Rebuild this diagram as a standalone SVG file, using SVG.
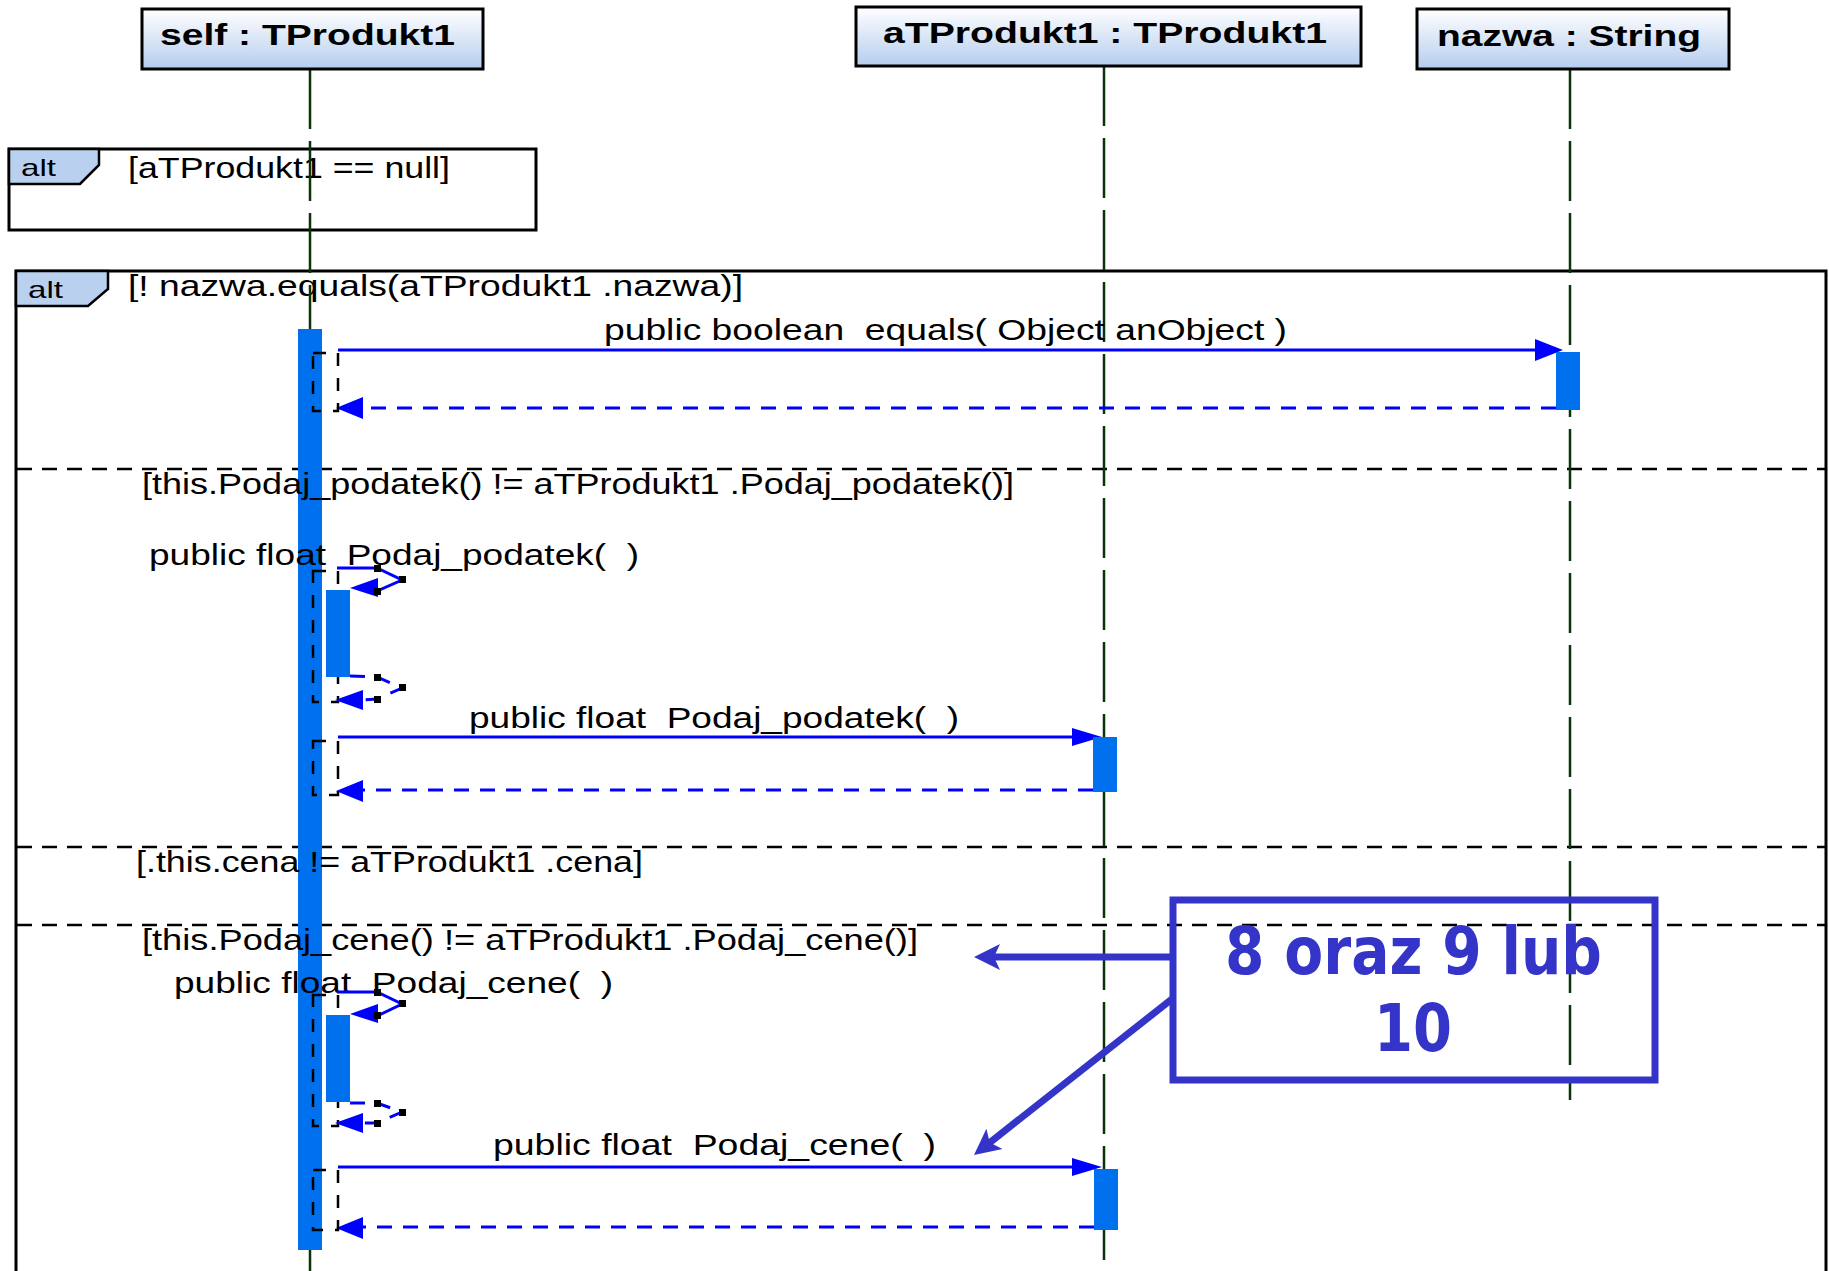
<svg xmlns="http://www.w3.org/2000/svg" width="1829" height="1271" viewBox="0 0 1829 1271">
<defs>
<linearGradient id="hg" x1="0" y1="0" x2="0" y2="1">
<stop offset="0" stop-color="#ffffff"/>
<stop offset="1" stop-color="#b5cdee"/>
</linearGradient>
<marker id="na" markerUnits="userSpaceOnUse" markerWidth="30" markerHeight="30" viewBox="0 0 30 30" refX="13" refY="15" orient="auto">
<path d="M2,2 L28,15 L2,28 L8,15 z" fill="#3434c8"/>
</marker>
<style>
.hdr{fill:url(#hg);stroke:#000;stroke-width:3}
.ht{font-family:"Liberation Sans",Arial,sans-serif;font-weight:bold;font-size:30px;fill:#000}
.t{font-family:"Liberation Sans",Arial,sans-serif;font-size:29px;fill:#000;white-space:pre}
.alt{font-family:"Liberation Sans",Arial,sans-serif;font-size:24px;fill:#000}
.frame{fill:none;stroke:#000;stroke-width:3}
.tab{fill:#b9d1ee;stroke:#000;stroke-width:2.5}
.div{stroke:#000;stroke-width:2.5;stroke-dasharray:15 10;fill:none}
.life{stroke:#0a330a;stroke-width:2.5;stroke-dasharray:60 12;fill:none}
.act{fill:#0070ee}
.msg{stroke:#0000ff;stroke-width:3;fill:none}
.ret{stroke:#0000ff;stroke-width:3;fill:none;stroke-dasharray:15 11}
.ah{fill:#0000ff}
.br{stroke:#000;stroke-width:2.5;fill:none;stroke-dasharray:13 12}
.dot{fill:#000}
.note{fill:none;stroke:#3434c8;stroke-width:7}
.nt{font-family:"DejaVu Sans",Verdana,sans-serif;font-weight:bold;font-size:66px;fill:#3434c8}
.na{stroke:#3434c8;stroke-width:7;fill:none}
</style>
</defs>
<rect width="1829" height="1271" fill="#ffffff"/>

<g id="frame-alt1">
<rect class="frame" x="9" y="149" width="527" height="81"/>
<polygon class="tab" points="9,149 99,149 99,165 80,184 9,184"/>
<text class="alt" x="21" y="176" textLength="35" lengthAdjust="spacingAndGlyphs">alt</text>
<text class="t" x="128" y="178" textLength="322" lengthAdjust="spacingAndGlyphs">[aTProdukt1 == null]</text>
</g>

<g id="frame-alt2">
<rect class="frame" x="16" y="271" width="1810" height="1100"/>
<polygon class="tab" points="16,271 108,271 108,289 88,306 16,306"/>
<text class="alt" x="28" y="298" textLength="35" lengthAdjust="spacingAndGlyphs">alt</text>
<text class="t" x="128" y="296" textLength="615" lengthAdjust="spacingAndGlyphs">[! nazwa.equals(aTProdukt1 .nazwa)]</text>
<line class="div" x1="17" y1="469" x2="1825" y2="469"/>
<line class="div" x1="17" y1="847" x2="1825" y2="847"/>
<line class="div" x1="17" y1="925" x2="1825" y2="925"/>
</g>

<g id="lifelines">
<line class="life" x1="310" y1="69" x2="310" y2="1271"/>
<line class="life" x1="1104" y1="66" x2="1104" y2="1260"/>
<line class="life" x1="1570" y1="69" x2="1570" y2="1100"/>
</g>

<g id="self">
<rect class="hdr" x="142" y="9" width="341" height="60"/>
<text class="ht" x="160" y="45" textLength="295" lengthAdjust="spacingAndGlyphs">self : TProdukt1</text>
<rect class="act" x="298" y="329" width="24" height="921"/>
</g>

<g id="aTProdukt1">
<rect class="hdr" x="856" y="7" width="505" height="59"/>
<text class="ht" x="883" y="43" textLength="444" lengthAdjust="spacingAndGlyphs">aTProdukt1 : TProdukt1</text>
</g>

<g id="nazwa">
<rect class="hdr" x="1417" y="9" width="312" height="60"/>
<text class="ht" x="1437" y="46" textLength="264" lengthAdjust="spacingAndGlyphs">nazwa : String</text>
</g>

<g id="guards">
<text class="t" x="142" y="494" textLength="872" lengthAdjust="spacingAndGlyphs">[this.Podaj_podatek() != aTProdukt1 .Podaj_podatek()]</text>
<text class="t" x="136" y="872" textLength="507" lengthAdjust="spacingAndGlyphs">[.this.cena != aTProdukt1 .cena]</text>
<text class="t" x="142" y="950" textLength="776" lengthAdjust="spacingAndGlyphs">[this.Podaj_cene() != aTProdukt1 .Podaj_cene()]</text>
</g>

<g id="connectors">
<!-- equals -->
<line class="msg" x1="338" y1="350" x2="1538" y2="350"/>
<polygon class="ah" points="1563,350 1535,339 1535,361"/>
<rect class="act" x="1556" y="352" width="24" height="58"/>
<line class="ret" x1="1556" y1="408" x2="360" y2="408"/>
<polygon class="ah" points="336,408 363,397 363,419"/>
<path class="br" d="M313,353 H338 V411 H313 Z"/>
<text class="t" x="604" y="340" textLength="683" lengthAdjust="spacingAndGlyphs">public boolean  equals( Object anObject )</text>

<!-- self call Podaj_podatek -->
<text class="t" x="149" y="565" textLength="490" lengthAdjust="spacingAndGlyphs">public float  Podaj_podatek(  )</text>
<path class="br" d="M313,571 H338 V702 H313 Z"/>
<rect class="act" x="326" y="590" width="24" height="87"/>
<polyline class="msg" points="337,568 377,568 402,580 377,591 375,591"/>
<polygon class="ah" points="350,588 378,578 378,597"/>
<polyline class="ret" stroke-dasharray="10 6" points="350,676 377,677 402,688 377,699 362,700"/>
<polygon class="ah" points="335,700 363,690 363,710"/>
<rect class="dot" x="374" y="565" width="7" height="7"/>
<rect class="dot" x="399" y="576" width="7" height="7"/>
<rect class="dot" x="374" y="588" width="7" height="7"/>
<rect class="dot" x="374" y="674" width="7" height="7"/>
<rect class="dot" x="399" y="684" width="7" height="7"/>
<rect class="dot" x="374" y="696" width="7" height="7"/>

<!-- Podaj_podatek to aTProdukt1 -->
<text class="t" x="469" y="728" textLength="490" lengthAdjust="spacingAndGlyphs">public float  Podaj_podatek(  )</text>
<line class="msg" x1="338" y1="737" x2="1076" y2="737"/>
<polygon class="ah" points="1102,737 1072,728 1072,746"/>
<rect class="act" x="1093" y="737" width="24" height="55"/>
<line class="ret" x1="1093" y1="790" x2="360" y2="790"/>
<polygon class="ah" points="336,791 363,780 363,802"/>
<path class="br" d="M313,741 H338 V795 H313 Z"/>

<!-- self call Podaj_cene -->
<text class="t" x="174" y="993" textLength="439" lengthAdjust="spacingAndGlyphs">public float  Podaj_cene(  )</text>
<path class="br" d="M313,995 H338 V1126 H313 Z"/>
<rect class="act" x="326" y="1015" width="24" height="87"/>
<polyline class="msg" points="337,992 377,992 402,1004 377,1016 375,1016"/>
<polygon class="ah" points="350,1014 378,1004 378,1023"/>
<polyline class="ret" stroke-dasharray="10 6" points="350,1103 377,1103 402,1112 377,1123 362,1123"/>
<polygon class="ah" points="335,1123 363,1113 363,1133"/>
<rect class="dot" x="374" y="989" width="7" height="7"/>
<rect class="dot" x="399" y="1000" width="7" height="7"/>
<rect class="dot" x="374" y="1012" width="7" height="7"/>
<rect class="dot" x="374" y="1100" width="7" height="7"/>
<rect class="dot" x="399" y="1109" width="7" height="7"/>
<rect class="dot" x="374" y="1120" width="7" height="7"/>

<!-- Podaj_cene to aTProdukt1 -->
<text class="t" x="493" y="1155" textLength="443" lengthAdjust="spacingAndGlyphs">public float  Podaj_cene(  )</text>
<line class="msg" x1="338" y1="1167" x2="1076" y2="1167"/>
<polygon class="ah" points="1102,1167 1072,1158 1072,1176"/>
<rect class="act" x="1094" y="1169" width="24" height="61"/>
<line class="ret" x1="1094" y1="1227" x2="360" y2="1227"/>
<polygon class="ah" points="336,1228 363,1217 363,1239"/>
<path class="br" d="M313,1170 H338 V1230 H313 Z"/>

<!-- note arrows -->
<line class="na" x1="1170" y1="957" x2="989" y2="957" marker-end="url(#na)"/>
<line class="na" x1="1172" y1="999" x2="985.8" y2="1145.7" marker-end="url(#na)"/>
</g>

<g id="note">
<rect class="note" x="1173" y="900" width="482" height="180"/>
<text class="nt" x="1225" y="974" textLength="377" lengthAdjust="spacingAndGlyphs">8 oraz 9 lub</text>
<text class="nt" x="1374" y="1051" textLength="78" lengthAdjust="spacingAndGlyphs">10</text>
</g>
</svg>
